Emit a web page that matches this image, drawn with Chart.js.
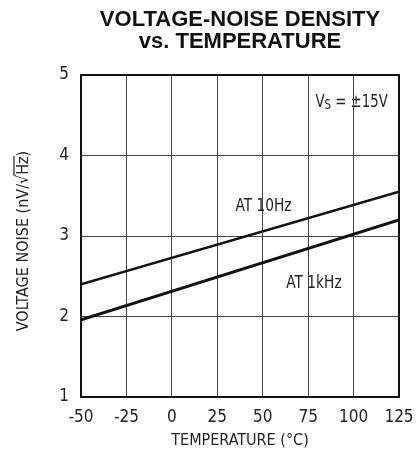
<!DOCTYPE html>
<html>
<head>
<meta charset="utf-8">
<script src="https://cdn.jsdelivr.net/npm/chart.js@4"></script>
<style>
  html, body { margin: 0; padding: 0; background: #fff; }
  #wrap { width: 419px; height: 450px; }
</style>
</head>
<body>
<div id="wrap"><canvas id="noise-chart" width="419" height="450"></canvas></div>
<script>
// Data
const temps = [-50, 125];
const noise10Hz = [2.4, 3.55];
const noise1kHz = [1.96, 3.2];
const xTicks = [-50, -25, 0, 25, 50, 75, 100, 125];
const yTicks = [1, 2, 3, 4, 5];

const narrow = '"Liberation Sans Narrow", "DejaVu Sans Condensed", Arial, sans-serif';

// labels inside the plot, placed in data coordinates
const notes = [
    { text: 'AT 10Hz', x: 35, y: 3.31 },
    { text: 'AT 1kHz', x: 63, y: 2.36 }
];

function toPoints(xs, ys) {
    return xs.map((x, i) => ({ x: x, y: ys[i] }));
}

// draw condensed text (the original lettering is narrower than any installed font)
function squeezed(ctx, text, x, y, font, sx) {
    ctx.save();
    ctx.font = font;
    ctx.translate(x, y);
    ctx.scale(sx, 1);
    ctx.fillText(text, 0, 0);
    const w = ctx.measureText(text).width * sx;
    ctx.restore();
    return w;
}

const frame = {
    id: 'frame',
    afterDraw(chart) {
        const { ctx, chartArea: a, scales } = chart;
        ctx.save();
        ctx.strokeStyle = '#111';
        ctx.lineWidth = 2;
        ctx.strokeRect(a.left, a.top, a.right - a.left, a.bottom - a.top);

        ctx.fillStyle = '#222';
        ctx.textBaseline = 'alphabetic';
        notes.forEach(n => {
            squeezed(ctx, n.text, scales.x.getPixelForValue(n.x), scales.y.getPixelForValue(n.y), '18px ' + narrow, 0.85);
        });

        // Vs = ±15V with subscript S
        let px = scales.x.getPixelForValue(79);
        const py = scales.y.getPixelForValue(4.6);
        px += squeezed(ctx, 'V', px, py, '18px ' + narrow, 0.82);
        px += squeezed(ctx, 'S', px, py + 2, '14px ' + narrow, 0.82);
        squeezed(ctx, ' = \u00b115V', px, py, '18px ' + narrow, 0.82);

        // y axis title, with the root sign's bar over Hz
        const head = 'VOLTAGE NOISE (nV/\u221a';
        const root = 'Hz';
        const tail = ')';
        ctx.font = '16px ' + narrow;
        const w1 = ctx.measureText(head).width;
        const w2 = ctx.measureText(root).width;
        const w3 = ctx.measureText(tail).width;
        const total = w1 + w2 + w3;
        ctx.translate(28, (a.top + a.bottom) / 2 + 5);
        ctx.rotate(-Math.PI / 2);
        let tx = -total / 2;
        ctx.fillText(head, tx, 0);
        ctx.fillText(root, tx + w1, 0);
        ctx.fillText(tail, tx + w1 + w2, 0);
        ctx.lineWidth = 1.2;
        ctx.strokeStyle = '#222';
        ctx.beginPath();
        ctx.moveTo(tx + w1 - 1, -14);
        ctx.lineTo(tx + w1 + w2 + 0.5, -14);
        ctx.stroke();
        ctx.restore();
    }
};

new Chart(document.getElementById('noise-chart'), {
    type: 'scatter',
    data: {
        datasets: [{
            label: 'AT 10Hz',
            data: toPoints(temps, noise10Hz),
            showLine: true,
            borderColor: '#111',
            borderWidth: 2.5,
            pointRadius: 0
        }, {
            label: 'AT 1kHz',
            data: toPoints(temps, noise1kHz),
            showLine: true,
            borderColor: '#111',
            borderWidth: 3,
            pointRadius: 0
        }]
    },
    options: {
        responsive: false,
        animation: false,
        layout: { padding: { left: 0, right: 20, top: 0, bottom: 0 } },
        plugins: {
            legend: { display: false },
            tooltip: { enabled: false },
            title: {
                display: true,
                fullSize: false,
                text: ['VOLTAGE-NOISE DENSITY', 'vs. TEMPERATURE'],
                color: '#111',
                font: { family: 'Arial, "Liberation Sans", sans-serif', size: 22, weight: 'bold', lineHeight: 1.0 },
                padding: { top: 9, bottom: 22 }
            }
        },
        scales: {
            x: {
                type: 'linear',
                min: -50,
                max: 125,
                afterBuildTicks: s => { s.ticks = xTicks.map(v => ({ value: v })); },
                afterFit: s => { s.height = 53; s.paddingLeft = 0; s.paddingRight = 0; },
                grid: { color: '#444', lineWidth: 1, drawTicks: false },
                border: { display: false },
                ticks: { color: '#222', padding: 10, font: { family: narrow, size: 17 } },
                title: {
                    display: true,
                    text: 'TEMPERATURE (\u00b0C)',
                    color: '#222',
                    padding: 0,
                    font: { family: narrow, size: 16 }
                }
            },
            y: {
                type: 'linear',
                min: 1,
                max: 5,
                afterBuildTicks: s => { s.ticks = yTicks.map(v => ({ value: v })); },
                afterFit: s => { s.width = 81; },
                grid: { color: '#444', lineWidth: 1, drawTicks: false },
                border: { display: false },
                ticks: { color: '#222', padding: 12, font: { family: narrow, size: 17 } }
            }
        }
    },
    plugins: [frame]
});
</script>
</body>
</html>
